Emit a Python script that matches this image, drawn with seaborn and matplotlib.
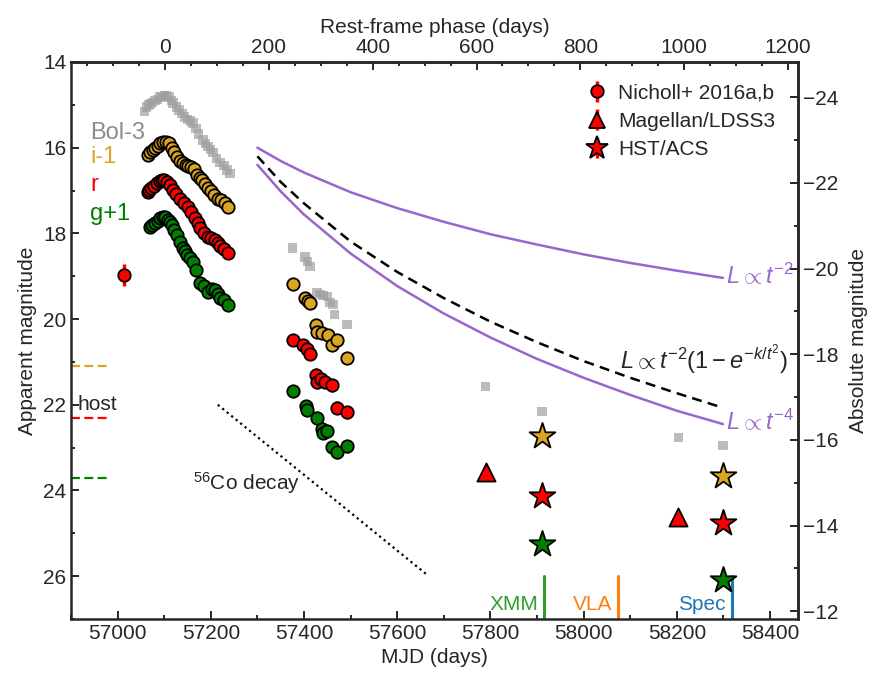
import numpy as np
import matplotlib
matplotlib.use("Agg")
import matplotlib.pyplot as plt
from matplotlib.ticker import MultipleLocator, FixedLocator
import seaborn as sns

# --- data ---
T_PEAK = 57102.0
ONE_PLUS_Z = 1.1136
DIST_MOD = 38.82

# first season (Nicholl+ 2016a,b)
bol_mjd = [57058, 57062, 57066, 57070, 57075, 57080, 57085, 57090, 57095, 57100, 57105, 57110,
           57115, 57119, 57126, 57132, 57138, 57144, 57150, 57156, 57162, 57168, 57174, 57183,
           57188, 57194, 57200, 57205, 57212, 57220, 57228, 57235, 57241]
bol_mag = [15.15, 15.05, 15.00, 14.98, 14.95, 14.90, 14.88, 14.82, 14.80, 14.78, 14.78, 14.82,
           14.90, 14.96, 15.05, 15.12, 15.20, 15.28, 15.34, 15.38, 15.42, 15.55, 15.68, 15.82,
           15.90, 15.98, 16.05, 16.12, 16.25, 16.35, 16.42, 16.52, 16.60]

i_mjd = [57065, 57070, 57075, 57080, 57086, 57092, 57098, 57104, 57110, 57116, 57122, 57128,
         57134, 57140, 57146, 57152, 57158, 57164, 57170, 57176, 57181, 57188, 57194, 57200,
         57206, 57215, 57222, 57230, 57237]
i_mag = [16.17, 16.10, 16.05, 16.00, 15.95, 15.90, 15.87, 15.86, 15.90, 16.00, 16.10, 16.22,
         16.30, 16.35, 16.40, 16.42, 16.45, 16.50, 16.63, 16.70, 16.75, 16.85, 16.94, 17.02,
         17.10, 17.20, 17.22, 17.28, 17.38]

r_mjd = [57014, 57065, 57068, 57072, 57078, 57084, 57090, 57095, 57100, 57106, 57112, 57119,
         57126, 57134, 57142, 57151, 57158, 57166, 57172, 57177, 57186, 57194, 57201, 57209,
         57215, 57220, 57228, 57237]
r_mag = [18.97, 17.03, 16.98, 16.95, 16.90, 16.82, 16.78, 16.75, 16.76, 16.80, 16.88, 16.98,
         17.08, 17.20, 17.30, 17.38, 17.50, 17.64, 17.76, 17.87, 17.98, 18.08, 18.10, 18.15,
         18.22, 18.30, 18.36, 18.45]
r_err = [0.25] + [0.03] * 27

g_mjd = [57070, 57074, 57080, 57086, 57092, 57097, 57102, 57108, 57113, 57117, 57122, 57127,
         57134, 57140, 57145, 57149, 57155, 57162, 57168, 57177, 57185, 57194, 57202, 57209,
         57215, 57220, 57228, 57237]
g_mag = [17.85, 17.80, 17.76, 17.70, 17.64, 17.61, 17.62, 17.68, 17.74, 17.80, 17.92, 18.03,
         18.20, 18.33, 18.42, 18.50, 18.58, 18.66, 18.85, 19.15, 19.22, 19.36, 19.30, 19.31,
         19.42, 19.50, 19.56, 19.66]

# second season
bol2_mjd = [57376, 57402, 57408, 57413, 57428, 57434, 57441, 57451, 57456, 57462, 57466, 57492]
bol2_mag = [18.34, 18.55, 18.66, 18.78, 19.38, 19.43, 19.45, 19.48, 19.62, 19.66, 19.90, 20.13]

i2_mjd = [57376, 57402, 57408, 57413, 57426, 57428, 57439, 57451, 57460, 57471, 57492]
i2_mag = [19.17, 19.50, 19.58, 19.62, 20.13, 20.29, 20.32, 20.36, 20.60, 20.48, 20.90]
i2_err = [0.05, 0.10, 0.10, 0.10, 0.12, 0.12, 0.12, 0.12, 0.15, 0.12, 0.12]

r2_mjd = [57376, 57398, 57406, 57413, 57426, 57428, 57436, 57445, 57460, 57471, 57492]
r2_mag = [20.48, 20.60, 20.71, 20.81, 21.30, 21.48, 21.40, 21.46, 21.55, 22.07, 22.18]
r2_err = [0.05, 0.08, 0.10, 0.10, 0.15, 0.15, 0.15, 0.15, 0.15, 0.15, 0.15]

g2_mjd = [57376, 57404, 57406, 57428, 57439, 57441, 57449, 57460, 57471, 57492]
g2_mag = [21.67, 22.04, 22.12, 22.30, 22.56, 22.65, 22.62, 22.99, 23.11, 22.97]
g2_err = [0.05, 0.08, 0.08, 0.15, 0.15, 0.15, 0.15, 0.15, 0.15, 0.15]

# late time
bol3_mjd = [57790, 57911, 58203, 58299]
bol3_mag = [21.58, 22.16, 22.77, 22.95]
ldss_mjd = [57790, 58203]
ldss_r = [23.58, 24.63]
hst_mjd = [57911, 58299]
hst_i = [22.74, 23.67]
hst_r = [24.12, 24.75]
hst_g = [25.24, 26.10]

# host levels
host_i, host_r, host_g = 21.1, 22.3, 23.7

# model curves
mod_mjd = [57300, 57350, 57400, 57500, 57600, 57700, 57800, 57900, 58000, 58100, 58200, 58299]
mod_t2 = [16.00, 16.31, 16.58, 17.04, 17.41, 17.73, 18.02, 18.26, 18.49, 18.69, 18.87, 19.04]
mod_t4 = [16.40, 17.02, 17.56, 18.47, 19.23, 19.87, 20.43, 20.93, 21.37, 21.77, 22.14, 22.45]
mod_dash = [16.20, 16.80, 17.30, 18.19, 18.90, 19.51, 20.06, 20.54, 20.98, 21.37, 21.73, 22.07]

co_mjd = [57215, 57662]
co_mag = [22.0, 25.95]

events = ["XMM", "VLA", "Spec"]
event_mjd = [57916, 58074, 58318]
event_col = ["#2ca02c", "#ff7f0e", "#1f77b4"]

mjd_ticks = [57000, 57200, 57400, 57600, 57800, 58000, 58200, 58400]
phase_ticks = [0, 200, 400, 600, 800, 1000, 1200]
app_ticks = [14, 16, 18, 20, 22, 24, 26]
abs_ticks = [-24, -22, -20, -18, -16, -14, -12]

GOLD = "#DAA520"
PURPLE = "#9966cc"
GREY = "#a0a0a0"

sns.set_style("ticks")
plt.rcParams["font.family"] = ["Liberation Sans", "DejaVu Sans"]
plt.rcParams["mathtext.fontset"] = "custom"
plt.rcParams["mathtext.rm"] = "Liberation Sans"
plt.rcParams["mathtext.it"] = "Liberation Sans:italic"
plt.rcParams["font.size"] = 15

fig = plt.figure(figsize=(8.76, 6.75), dpi=100)
ax = fig.add_axes([71 / 876, 1 - 619 / 675, 727 / 876, 557 / 675])

# grey bolometric squares
for xs, ys in [(bol_mjd, bol_mag), (bol2_mjd, bol2_mag), (bol3_mjd, bol3_mag)]:
    sns.scatterplot(x=xs, y=ys, ax=ax, marker="s", s=45, color=GREY, alpha=0.7,
                    edgecolor="none", zorder=2)

# error bars
ax.errorbar(r_mjd, r_mag, yerr=r_err, fmt="none", ecolor="red", elinewidth=2.5, zorder=3)
ax.errorbar(i2_mjd, i2_mag, yerr=i2_err, fmt="none", ecolor=GOLD, elinewidth=2.5, zorder=3)
ax.errorbar(r2_mjd, r2_mag, yerr=r2_err, fmt="none", ecolor="red", elinewidth=2.5, zorder=3)
ax.errorbar(g2_mjd, g2_mag, yerr=g2_err, fmt="none", ecolor="green", elinewidth=2.5, zorder=3)

circ = dict(ax=ax, marker="o", s=80, edgecolor="black", linewidth=1.3, zorder=4)
sns.scatterplot(x=i_mjd + i2_mjd, y=i_mag + i2_mag, color=GOLD, **circ)
sns.scatterplot(x=r_mjd + r2_mjd, y=r_mag + r2_mag, color="red", **circ)
sns.scatterplot(x=g_mjd + g2_mjd, y=g_mag + g2_mag, color="green", **circ)

sns.scatterplot(x=ldss_mjd, y=ldss_r, ax=ax, marker="^", s=170, color="red",
                edgecolor="black", linewidth=1.3, zorder=4)
for mags, col in [(hst_i, GOLD), (hst_r, "red"), (hst_g, "green")]:
    sns.scatterplot(x=hst_mjd, y=mags, ax=ax, marker="*", s=380, color=col,
                    edgecolor="black", linewidth=1.3, zorder=5)

# model lines
sns.lineplot(x=mod_mjd, y=mod_t2, ax=ax, color=PURPLE, lw=1.8, sort=False)
sns.lineplot(x=mod_mjd, y=mod_t4, ax=ax, color=PURPLE, lw=1.8, sort=False)
ax.plot(mod_mjd, mod_dash, color="black", lw=1.8, ls=(0, (4, 2.5)))
ax.plot(co_mjd, co_mag, color="black", lw=1.6, ls=(0, (1, 1.6)))

# host levels
for lev, col in [(host_i, GOLD), (host_r, "red"), (host_g, "green")]:
    ax.plot([56900, 56986], [lev, lev], color=col, lw=1.6, ls=(0, (4, 2)))
ax.text(56915, 22.0, "host", va="center", ha="left", fontsize=15)

# event markers
for name, t, col in zip(events, event_mjd, event_col):
    ax.plot([t, t], [26.0, 27.0], color=col, lw=2.2)
    ax.text(t - 13, 26.8, name, color=col, ha="right", va="baseline", fontsize=15)

# labels
ax.text(56941, 15.8, "Bol-3", color="#8c8c8c", fontsize=17, va="baseline")
ax.text(56941, 16.36, "i-1", color=GOLD, fontsize=17, va="baseline")
ax.text(56941, 17.0, "r", color="red", fontsize=17, va="baseline")
ax.text(56941, 17.68, "g+1", color="green", fontsize=17, va="baseline")
ax.text(57161, 23.98, r"$^{56}$Co decay", fontsize=15, va="baseline")
ax.text(58306, 19.0, r"$L\propto t^{-2}$", color=PURPLE, fontsize=17, va="center")
ax.text(58306, 22.4, r"$L\propto t^{-4}$", color=PURPLE, fontsize=17, va="center")
ax.text(58078, 20.95, r"$L\propto t^{-2}(1-e^{-k/t^2})$", fontsize=17, va="center")

# legend proxies
kw = dict(color="red", mec="black", mew=1.3, ecolor="red", elinewidth=2.5, ls="none")
h1 = ax.errorbar([np.nan], [np.nan], yerr=[1], fmt="o", ms=9, **kw)
h2 = ax.errorbar([np.nan], [np.nan], yerr=[1], fmt="^", ms=12, **kw)
h3 = ax.errorbar([np.nan], [np.nan], yerr=[1], fmt="*", ms=17, **kw)
ax.legend([h1, h2, h3], ["Nicholl+ 2016a,b", "Magellan/LDSS3", "HST/ACS"],
          loc="upper right", bbox_to_anchor=(0.995, 0.995), frameon=False,
          fontsize=15, handletextpad=0.3, labelspacing=0.45, handlelength=1.5)

ax.set_xlim(56900, 58460)
ax.set_ylim(27, 14)
ax.set_xlabel("MJD (days)", fontsize=15)
ax.set_ylabel("Apparent magnitude", fontsize=15)
ax.xaxis.set_major_locator(FixedLocator(mjd_ticks))
ax.xaxis.set_minor_locator(MultipleLocator(100))
ax.yaxis.set_major_locator(FixedLocator(app_ticks))
ax.yaxis.set_minor_locator(MultipleLocator(1))

top = ax.secondary_xaxis("top", functions=(lambda m: (m - T_PEAK) / ONE_PLUS_Z,
                                           lambda p: p * ONE_PLUS_Z + T_PEAK))
top.set_xlabel("Rest-frame phase (days)", fontsize=15, labelpad=4)
top.xaxis.set_major_locator(FixedLocator(phase_ticks))
top.xaxis.set_minor_locator(MultipleLocator(50))

right = ax.secondary_yaxis("right", functions=(lambda m: m - DIST_MOD,
                                               lambda M: M + DIST_MOD))
right.set_ylabel("Absolute magnitude", fontsize=15, labelpad=8)
right.yaxis.set_major_locator(FixedLocator(abs_ticks))
right.yaxis.set_minor_locator(MultipleLocator(1))

for a in (ax, top, right):
    a.tick_params(which="both", direction="in", labelsize=15, width=1.4)
    a.tick_params(which="major", length=6)
    a.tick_params(which="minor", length=3)
for sp in ax.spines.values():
    sp.set_linewidth(1.8)
for a in (top, right):
    for sp in a.spines.values():
        sp.set_linewidth(1.8)

fig.savefig("out.png", dpi=100)
